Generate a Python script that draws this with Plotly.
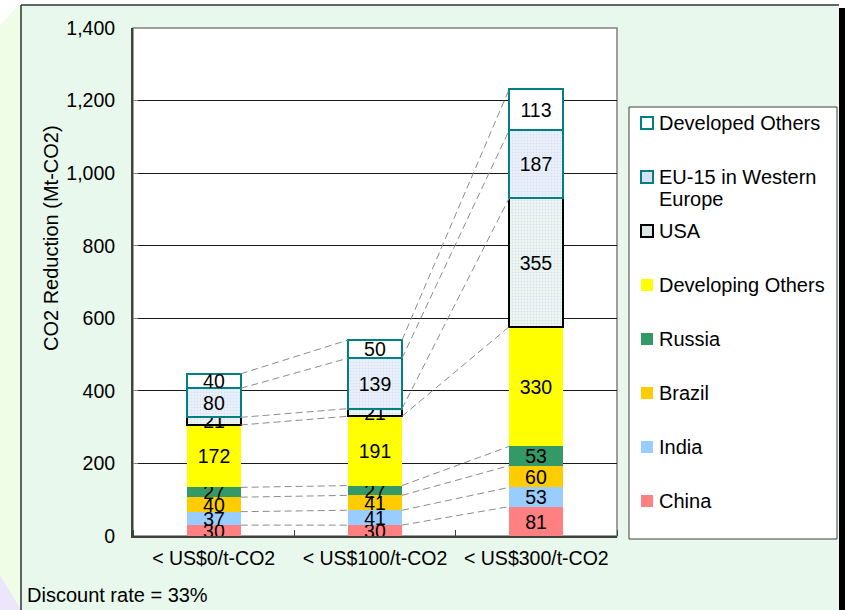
import numpy as np
import plotly.graph_objects as go

# ---- data -------------------------------------------------------------
categories = ["< US$0/t-CO2", "< US$100/t-CO2", "< US$300/t-CO2"]

china = [30, 30, 81]
india = [37, 41, 53]
brazil = [40, 41, 60]
russia = [27, 27, 53]
developing_others = [172, 191, 330]
usa = [21, 21, 355]
eu15 = [80, 139, 187]
developed_others = [40, 50, 113]

series_names = ["China", "India", "Brazil", "Russia", "Developing Others",
                "USA", "EU-15 in Western Europe", "Developed Others"]
legend_labels = ["China", "India", "Brazil", "Russia", "Developing Others",
                 "USA", "EU-15 in Western<br>Europe", "Developed Others"]
y_ticks = [0, 200, 400, 600, 800, 1000, 1200, 1400]
note_text = "Discount rate = 33%"
y_title = "CO2 Reduction (Mt-CO2)"

# ---- styling ----------------------------------------------------------
FONT = "Arial, Liberation Sans, sans-serif"
W, H = 845, 610
ML, MR, MT, MB = 133, 228, 28, 74
PW, PH = W - ML - MR, H - MT - MB

styles = [
    dict(fill="#FF8080", line="#FF8080", lw=0, pat=None, sym="#FF8080"),
    dict(fill="#99CCFF", line="#99CCFF", lw=0, pat=None, sym="#99CCFF"),
    dict(fill="#FFCC00", line="#FFCC00", lw=0, pat=None, sym="#FFCC00"),
    dict(fill="#339966", line="#339966", lw=0, pat=None, sym="#339966"),
    dict(fill="#FFFF00", line="#FFFF00", lw=0, pat=None, sym="#FFFF00"),
    dict(fill="#E4EEEE", line="#000000", lw=2,
         pat=dict(shape=".", bgcolor="#EEF5F5", fgcolor="#C2D4D4", size=3, solidity=0.3),
         sym="#DCE8E8"),
    dict(fill="#E2EAF8", line="#008080", lw=2,
         pat=dict(shape=".", bgcolor="#EBF1FB", fgcolor="#C2D2EE", size=3, solidity=0.3),
         sym="#D6E2F4"),
    dict(fill="#FFFFFF", line="#008080", lw=2, pat=None, sym="#FFFFFF"),
]


def px(x):
    return (x - ML) / PW


def py(y):
    return 1 - (y - MT) / PH


vals = np.array([china, india, brazil, russia, developing_others,
                 usa, eu15, developed_others])
tops = vals.cumsum(axis=0)
xs = np.arange(len(categories))
bw = 0.335

fig = go.Figure()

# dashed series lines joining segment tops of neighbouring columns
for k in range(len(series_names)):
    lx, ly = [], []
    for i in range(len(xs) - 1):
        lx += [xs[i] + bw / 2, xs[i + 1] - bw / 2, None]
        ly += [tops[k, i], tops[k, i + 1], None]
    fig.add_trace(go.Scatter(x=lx, y=ly, mode="lines",
                             line=dict(color="#8C8C8C", width=1, dash="7px,4px"),
                             showlegend=False, hoverinfo="skip"))

# stacked columns
for k, name in enumerate(series_names):
    st = styles[k]
    marker = dict(color=st["fill"], line=dict(color=st["line"], width=st["lw"]))
    if st["pat"]:
        marker["pattern"] = st["pat"]
    fig.add_trace(go.Bar(
        x=xs, y=vals[k], width=bw, name=name, marker=marker,
        text=vals[k], textposition="inside", insidetextanchor="middle",
        textangle=0, constraintext="none",
        textfont=dict(family=FONT, size=19.5, color="black"),
        showlegend=False, hoverinfo="skip"))

shapes = []
# outer frame background
shapes.append(dict(type="path", xref="paper", yref="paper", layer="below",
                   path=f"M {px(0)},{py(25)} L {px(19)},{py(5)} L {px(22)},{py(5)} "
                        f"L {px(22)},{py(610)} L {px(0)},{py(610)} Z",
                   fillcolor="#EFFCE6", line=dict(width=0)))
shapes.append(dict(type="path", xref="paper", yref="paper", layer="below",
                   path=f"M {px(0)},{py(575)} L {px(21)},{py(610)} L {px(0)},{py(610)} Z",
                   fillcolor="#ECE6FA", line=dict(width=0)))
shapes.append(dict(type="rect", xref="paper", yref="paper", layer="below",
                   x0=px(21), x1=px(839), y0=py(5), y1=py(611),
                   fillcolor="#E9F8EC", line=dict(width=0)))
shapes.append(dict(type="line", xref="paper", yref="paper", layer="below",
                   x0=px(21), x1=px(21), y0=py(5), y1=py(611),
                   line=dict(color="#333333", width=1.5)))
shapes.append(dict(type="line", xref="paper", yref="paper", layer="below",
                   x0=px(21), x1=px(839), y0=py(5), y1=py(5),
                   line=dict(color="#333333", width=1.5)))
shapes.append(dict(type="rect", xref="paper", yref="paper", layer="below",
                   x0=px(839), x1=px(846), y0=py(8), y1=py(611),
                   fillcolor="#000000", line=dict(width=0)))
# plot area
shapes.append(dict(type="rect", xref="x domain", yref="y domain", layer="below",
                   x0=0, x1=1, y0=0, y1=1, fillcolor="#FFFFFF",
                   line=dict(color="#808080", width=1.5)))
# legend box
shapes.append(dict(type="rect", xref="paper", yref="paper", layer="below",
                   x0=px(629), x1=px(837), y0=py(107), y1=py(539),
                   fillcolor="#FFFFFF", line=dict(color="#404040", width=1)))

annotations = []
# legend entries, top entry = last series
for j, k in enumerate(reversed(range(len(series_names)))):
    st = styles[k]
    cy = 123 + 54 * j
    shapes.append(dict(type="rect", xref="paper", yref="paper", layer="below",
                       x0=px(641), x1=px(653), y0=py(cy - 6), y1=py(cy + 6),
                       fillcolor=st["sym"],
                       line=dict(color=st["line"], width=2 if st["lw"] else 0)))
    for n, line in enumerate(legend_labels[k].split("<br>")):
        annotations.append(dict(xref="paper", yref="paper", x=px(657), y=py(cy + 22 * n),
                                xanchor="left", yanchor="middle", showarrow=False,
                                text=line, font=dict(family=FONT, size=20, color="black")))

annotations.append(dict(xref="paper", yref="paper", x=px(51), y=py(238),
                        xanchor="center", yanchor="middle", showarrow=False,
                        textangle=-90, text=y_title,
                        font=dict(family=FONT, size=20, color="black")))
annotations.append(dict(xref="paper", yref="paper", x=px(25), y=py(595),
                        xanchor="left", yanchor="middle", showarrow=False,
                        text=note_text, font=dict(family=FONT, size=20, color="black")))

fig.update_layout(
    width=W, height=H,
    margin=dict(l=ML, r=MR, t=MT, b=MB, pad=0),
    paper_bgcolor="#FFFFFF", plot_bgcolor="rgba(0,0,0,0)",
    barmode="stack", bargap=0,
    showlegend=False,
    font=dict(family=FONT, size=19.5, color="black"),
    shapes=shapes, annotations=annotations,
    xaxis=dict(range=[-0.5, 2.5], tickmode="array", tickvals=xs, ticktext=categories,
               ticks="", showgrid=False, zeroline=False,
               showline=True, linecolor="#404040", linewidth=2,
               ticklabelstandoff=4,
               tickfont=dict(family=FONT, size=19.5, color="black"),
               minor=dict(tickmode="array", tickvals=[-0.5, 0.5, 1.5, 2.5],
                          ticks="inside", ticklen=6, tickcolor="#404040", tickwidth=1)),
    yaxis=dict(range=[0, 1400], tickmode="array", tickvals=y_ticks,
               tickformat=",d", ticks="inside", ticklen=5, tickcolor="#808080",
               showgrid=True, gridcolor="#1A1A1A", gridwidth=1, zeroline=False,
               showline=True, linecolor="#404040", linewidth=2,
               ticklabelstandoff=12,
               tickfont=dict(family=FONT, size=19.5, color="black")),
)

fig.write_html("out.html")
